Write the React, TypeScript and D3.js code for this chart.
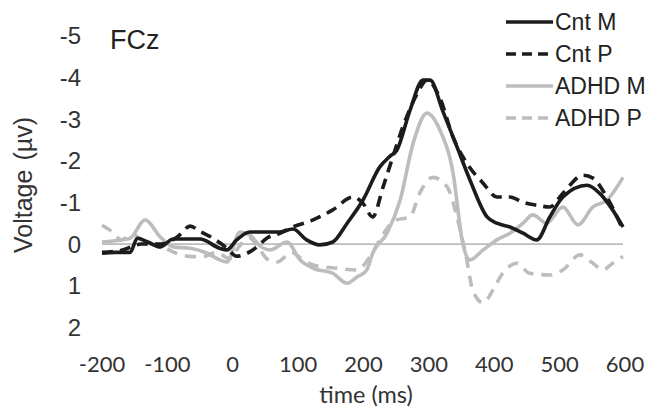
import React from "react";
import * as d3 from "d3";

const yTicks = [-5, -4, -3, -2, -1, 0, 1, 2];
const xTicks = [-200, -100, 0, 100, 200, 300, 400, 500, 600];

const cntMTime = [-200, -180, -157, -146, -130, -111, -91, -50, -20, -9, 6, 26, 72, 92, 113, 133, 153, 175, 199, 225, 240, 251, 271, 291, 302, 321, 343, 363, 389, 404, 424, 444, 465, 485, 505, 542, 561, 581, 597];
const cntMVal = [0.22, 0.2, 0.2, -0.14, -0.05, 0.07, -0.12, -0.12, 0.1, 0.14, -0.1, -0.29, -0.29, -0.36, -0.1, 0.02, -0.05, -0.5, -1.05, -1.85, -2.1, -2.25, -3.2, -3.93, -3.93, -3.2, -2.33, -1.53, -0.65, -0.5, -0.41, -0.26, -0.1, -0.65, -1.13, -1.41, -1.22, -0.82, -0.41];

const cntPTime = [-200, -170, -140, -110, -85, -65, -50, -30, -9, 6, 22, 37, 52, 72, 92, 123, 153, 184, 199, 214, 230, 243, 260, 282, 297, 317, 337, 358, 383, 404, 424, 444, 465, 485, 505, 536, 551, 572, 597];
const cntPVal = [0.2, 0.15, 0.0, 0.0, -0.17, -0.43, -0.3, -0.14, 0.1, 0.29, 0.22, 0.07, -0.14, -0.26, -0.41, -0.58, -0.82, -1.13, -0.98, -0.65, -1.37, -2.0, -2.8, -3.6, -3.93, -3.5, -2.56, -1.94, -1.46, -1.13, -1.13, -1.0, -0.93, -0.89, -1.22, -1.65, -1.58, -1.13, -0.34];

const adhdMTime = [-200, -170, -157, -134, -111, -91, -65, -39, -20, -9, 11, 26, 42, 57, 83, 103, 123, 153, 175, 190, 205, 214, 236, 256, 276, 297, 317, 337, 352, 363, 383, 404, 424, 444, 459, 480, 505, 528, 551, 572, 597];
const adhdMVal = [-0.05, -0.1, -0.14, -0.58, -0.17, 0.07, 0.1, 0.22, 0.38, 0.43, -0.29, -0.22, 0.05, 0.14, -0.05, 0.38, 0.58, 0.7, 0.94, 0.79, 0.62, 0.22, -0.26, -1.05, -2.42, -3.14, -2.73, -1.7, 0.0, 0.38, 0.14, -0.1, -0.26, -0.5, -0.7, -0.5, -0.89, -0.46, -0.89, -1.05, -1.6];

const adhdPTime = [-200, -185, -170, -155, -135, -110, -81, -61, -46, -25, -5, 10, 25, 40, 52, 68, 90, 105, 123, 159, 190, 210, 225, 240, 251, 271, 286, 306, 328, 343, 358, 367, 383, 398, 413, 435, 454, 485, 505, 531, 551, 566, 581, 597];
const adhdPVal = [-0.45, -0.3, -0.1, -0.25, -0.05, 0.05, 0.25, 0.3, 0.3, 0.2, 0.35, 0.05, -0.15, 0.1, 0.35, 0.43, 0.2, 0.35, 0.5, 0.58, 0.62, 0.3, -0.1, -0.45, -0.58, -0.65, -1.22, -1.6, -1.37, -0.65, 0.38, 1.1, 1.41, 1.1, 0.7, 0.46, 0.7, 0.74, 0.62, 0.26, 0.46, 0.62, 0.46, 0.3];

const seriesNames = ["Cnt M", "Cnt P", "ADHD M", "ADHD P"];
const seriesColors = ["#1c1c1c", "#1c1c1c", "#bdbdbd", "#bdbdbd"];
const seriesDash = ["none", "11 7", "none", "11 8"];

export default function App() {
  const x = d3.scaleLinear().domain([-200, 600]).range([102, 625]);
  const y = d3.scaleLinear().domain([-5, 2]).range([35.5, 327.5]);
  const line = d3
    .line<[number, number]>()
    .x((d) => x(d[0]))
    .y((d) => y(d[1]))
    .curve(d3.curveMonotoneX);

  const series = [
    d3.zip(cntMTime, cntMVal) as [number, number][],
    d3.zip(cntPTime, cntPVal) as [number, number][],
    d3.zip(adhdMTime, adhdMVal) as [number, number][],
    d3.zip(adhdPTime, adhdPVal) as [number, number][],
  ];
  const order = [3, 2, 1, 0];

  return (
    <svg
      width={648}
      height={411}
      style={{ position: "absolute", left: 0, top: 0, background: "#fff" }}
    >
      <rect width={648} height={411} fill="#fff" />
      <line x1={x(-200)} x2={x(597)} y1={y(0)} y2={y(0)} stroke="#8a8a8a" strokeWidth={1} />
      {order.map((i) => (
        <path
          key={i}
          d={line(series[i]) || ""}
          fill="none"
          stroke={seriesColors[i]}
          strokeWidth={3.6}
          strokeDasharray={seriesDash[i]}
          strokeLinejoin="round"
        />
      ))}
      {yTicks.map((t) => (
        <text
          key={t}
          x={81}
          y={y(t)}
          dy="0.36em"
          textAnchor="end"
          fontFamily="Liberation Sans, Arial, sans-serif"
          fontSize={24}
          fill="#333"
        >
          {t}
        </text>
      ))}
      {xTicks.map((t) => (
        <text
          key={t}
          x={x(t)}
          y={364}
          dy="0.36em"
          textAnchor="middle"
          fontFamily="Lato, Open Sans, sans-serif"
          fontSize={22}
          fill="#333"
        >
          {t}
        </text>
      ))}
      <text
        x={366}
        y={403}
        textAnchor="middle"
        fontFamily="Lato, Open Sans, sans-serif"
        fontSize={23.5}
        fill="#333"
      >
        time (ms)
      </text>
      <text
        transform="translate(32,185) rotate(-90)"
        textAnchor="middle"
        fontFamily="Liberation Sans, Arial, sans-serif"
        fontSize={25}
        fill="#333"
      >
        <tspan>Voltage</tspan>
        <tspan dx={9}>(µv)</tspan>
      </text>
      <text x={110} y={49} fontFamily="Liberation Sans, Arial, sans-serif" fontSize={27} fill="#222">
        FCz
      </text>
      {seriesNames.map((n, i) => (
        <g key={n} transform={`translate(0,${22 + i * 32})`}>
          <line
            x1={506}
            x2={553}
            y1={0}
            y2={0}
            stroke={seriesColors[i]}
            strokeWidth={3.6}
            strokeDasharray={seriesDash[i] === "none" ? "none" : "10 6"}
          />
          <text
            x={555}
            y={0}
            dy="0.36em"
            fontFamily="Liberation Sans, Arial, sans-serif"
            fontSize={23}
            fill="#222"
          >
            {n}
          </text>
        </g>
      ))}
    </svg>
  );
}
